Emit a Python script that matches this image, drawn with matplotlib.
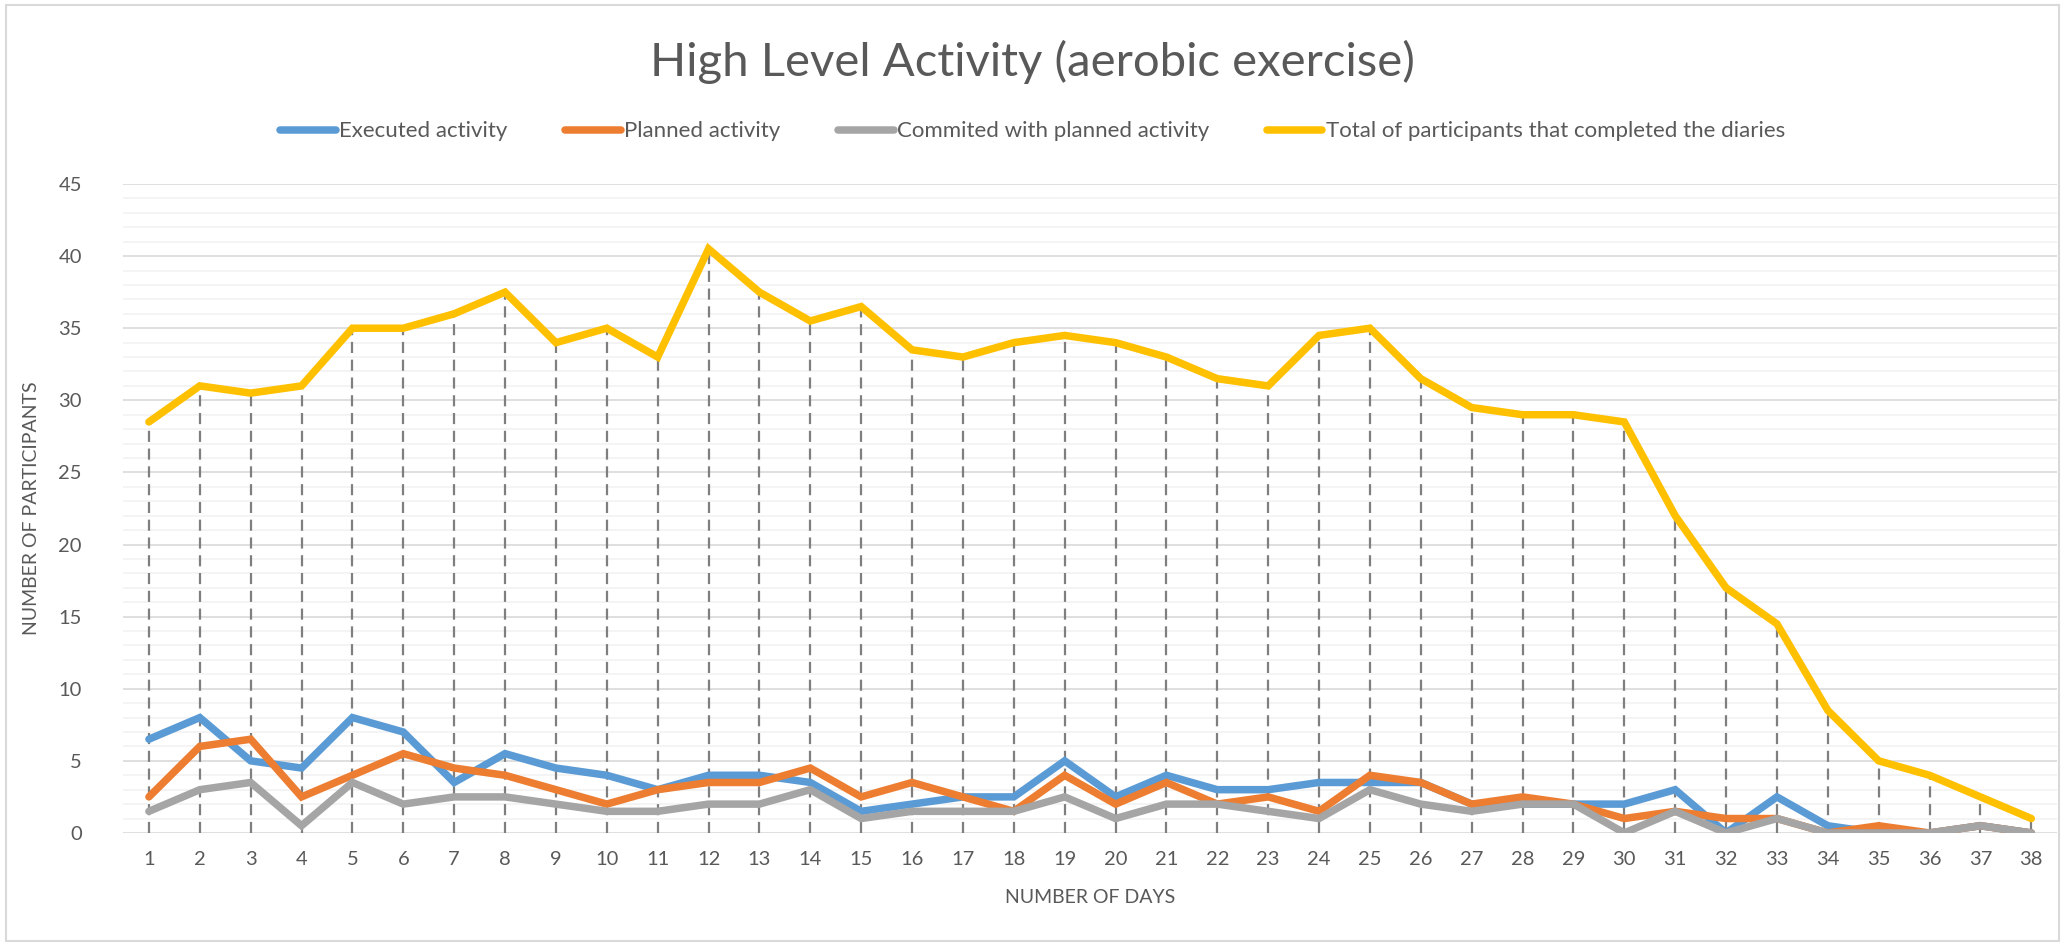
import matplotlib.pyplot as plt
from matplotlib.patches import Rectangle
from matplotlib.ticker import MultipleLocator

plt.rcParams['font.family'] = ['Lato', 'DejaVu Sans']

# data
days = list(range(1, 39))
executed = [6.5, 8, 5, 4.5, 8, 7, 3.5, 5.5, 4.5, 4, 3, 4, 4, 3.5, 1.5, 2, 2.5, 2.5, 5,
            2.5, 4, 3, 3, 3.5, 3.5, 3.5, 2, 2, 2, 2, 3, 0, 2.5, 0.5, 0, 0, 0.5, 0]
planned = [2.5, 6, 6.5, 2.5, 4, 5.5, 4.5, 4, 3, 2, 3, 3.5, 3.5, 4.5, 2.5, 3.5, 2.5, 1.5, 4,
           2, 3.5, 2, 2.5, 1.5, 4, 3.5, 2, 2.5, 2, 1, 1.5, 1, 1, 0, 0.5, 0, 0.5, 0]
committed = [1.5, 3, 3.5, 0.5, 3.5, 2, 2.5, 2.5, 2, 1.5, 1.5, 2, 2, 3, 1, 1.5, 1.5, 1.5, 2.5,
             1, 2, 2, 1.5, 1, 3, 2, 1.5, 2, 2, 0, 1.5, 0, 1, 0, 0, 0, 0.5, 0]
total = [28.5, 31, 30.5, 31, 35, 35, 36, 37.5, 34, 35, 33, 40.5, 37.5, 35.5, 36.5, 33.5, 33,
         34, 34.5, 34, 33, 31.5, 31, 34.5, 35, 31.5, 29.5, 29, 29, 28.5, 22, 17, 14.5, 8.5,
         5, 4, 2.5, 1]

labels = ['Executed activity', 'Planned activity', 'Commited with planned activity',
          'Total of participants that completed the diaries']
colors = ['#5B9BD5', '#ED7D31', '#A5A5A5', '#FFC000']
txt = '#595959'

fig = plt.figure(figsize=(20.65, 9.46), dpi=100)
ax = fig.add_axes([0.0598, 0.1195, 0.9362, 0.686])

# drop lines from the highest series down to the axis
top = [max(v) for v in zip(executed, planned, committed, total)]
ax.vlines(days, 0, top, colors='#7F7F7F', linestyles=(0, (5, 3)), linewidth=1.6, zorder=2)

for vals, lab, col in zip([executed, planned, committed, total], labels, colors):
    ax.plot(days, vals, color=col, lw=5.4, label=lab, zorder=3,
            solid_joinstyle='miter', solid_capstyle='round')

ax.set_xlim(0.5, 38.5)
ax.set_ylim(0, 45)
ax.set_xticks(days)
ax.yaxis.set_major_locator(MultipleLocator(5))
ax.yaxis.set_minor_locator(MultipleLocator(1))
ax.grid(which='major', axis='y', color='#D9D9D9', lw=1.2, zorder=0)
ax.grid(which='minor', axis='y', color='#F2F2F2', lw=1.2, zorder=0)
for s in ax.spines.values():
    s.set_visible(False)
ax.tick_params(axis='both', which='both', length=0, labelsize=14.5, labelcolor=txt)
ax.tick_params(axis='y', pad=30)
ax.tick_params(axis='x', pad=13)

ax.set_xlabel('NUMBER OF DAYS', fontsize=14, color=txt, labelpad=15)
ax.set_ylabel('NUMBER OF PARTICIPANTS', fontsize=14, color=txt, labelpad=13)

fig.suptitle('High Level Activity (aerobic exercise)', fontsize=34, color=txt,
             fontweight='normal', y=0.958)

fig.legend(loc='center', bbox_to_anchor=(0.5, 0.861), ncol=4, frameon=False,
           fontsize=16, labelcolor=txt, handlelength=2.5, handletextpad=0.15,
           columnspacing=2.6)

fig.patches.append(Rectangle((0.003, 0.005), 0.994, 0.99, transform=fig.transFigure,
                             fill=False, edgecolor='#D9D9D9', lw=1.5))

fig.savefig('out.png', dpi=100)
